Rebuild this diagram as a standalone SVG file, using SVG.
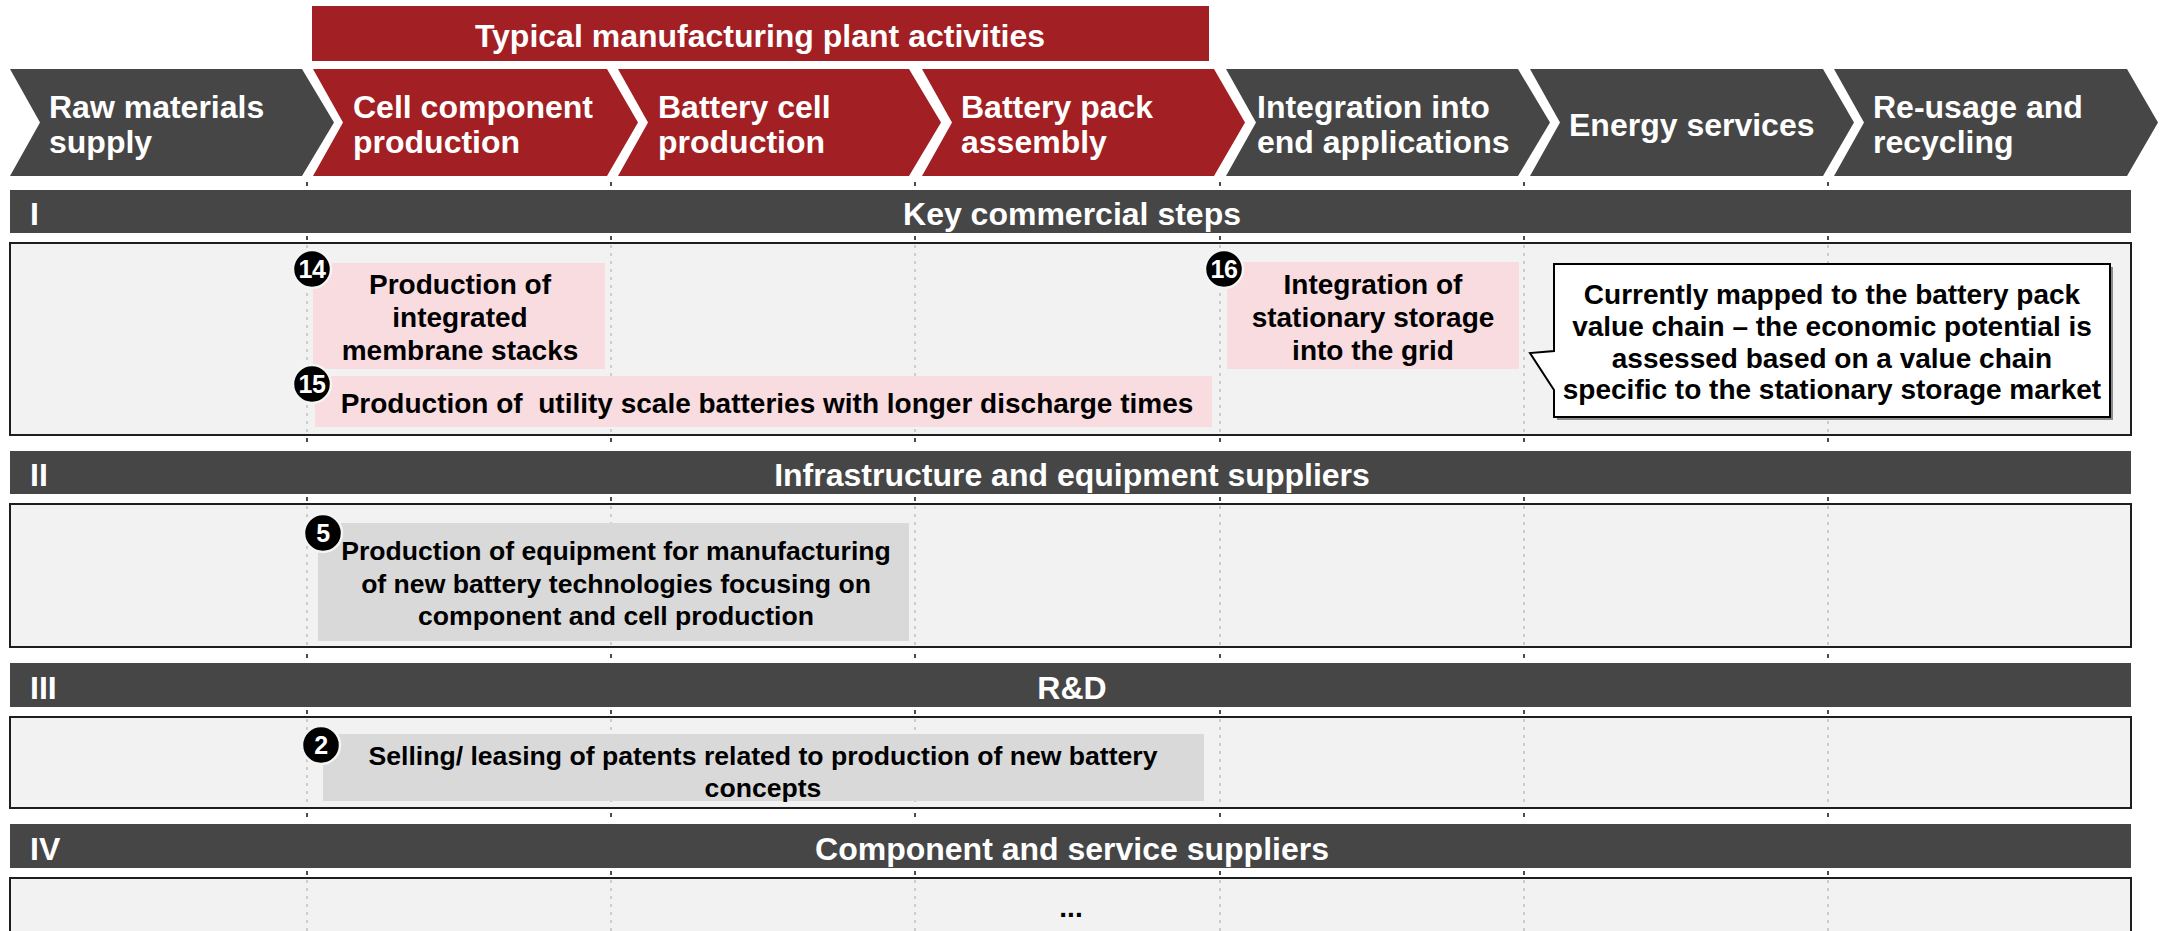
<svg xmlns="http://www.w3.org/2000/svg" width="2161" height="931" viewBox="0 0 2161 931">
<style>
text{font-family:"Liberation Sans",Arial,sans-serif;font-weight:bold}
.red{fill:#A21F23}
.dark{fill:#464646}
.chev{font-size:32px;fill:#fff}
.hdr{font-size:32px;fill:#fff}
.hdrc{font-size:32px;fill:#fff;text-anchor:middle}
.box{fill:#F2F2F2;stroke:#1e1e1e;stroke-width:2}
.grid{stroke:#b8b8b8;stroke-width:1.3;stroke-dasharray:3 5;fill:none}
.tick{stroke:#111;stroke-width:1.5}
.pink{fill:#F8DCDF}
.grey{fill:#D9D9D9}
.nt{font-size:28px;fill:#000;text-anchor:middle}
.nt2{font-size:26.6px;fill:#000;text-anchor:middle}
.badge circle{fill:#000;stroke:#f4f4f4;stroke-width:2.5}
.badge text{font-size:25px;fill:#fff;text-anchor:middle;letter-spacing:-0.5px}
</style>
<rect width="2161" height="931" fill="#fff"/>

<g id="title-bar">
<rect class="red" x="312" y="6" width="897" height="55"/>
<text class="hdrc" x="760" y="47">Typical manufacturing plant activities</text>
</g>

<g id="chevrons">
<g id="chev-raw"><polygon class="dark" points="10,69 302,69 334,122.5 302,176 10,176 40,122.5"/>
<text class="chev" x="49" y="118">Raw materials</text><text class="chev" x="49" y="153">supply</text></g>
<g id="chev-cellcomp"><polygon class="red" points="313,69 607,69 638,122.5 607,176 313,176 343,122.5"/>
<text class="chev" x="353" y="118">Cell component</text><text class="chev" x="353" y="153">production</text></g>
<g id="chev-cell"><polygon class="red" points="618,69 909,69 941,122.5 909,176 618,176 648,122.5"/>
<text class="chev" x="658" y="118">Battery cell</text><text class="chev" x="658" y="153">production</text></g>
<g id="chev-pack"><polygon class="red" points="922,69 1214,69 1245,122.5 1214,176 922,176 952,122.5"/>
<text class="chev" x="961" y="118">Battery pack</text><text class="chev" x="961" y="153">assembly</text></g>
<g id="chev-integ"><polygon class="dark" points="1226,69 1518,69 1550,122.5 1518,176 1226,176 1256,122.5"/>
<text class="chev" x="1257" y="118">Integration into</text><text class="chev" x="1257" y="153">end applications</text></g>
<g id="chev-energy"><polygon class="dark" points="1530,69 1823,69 1854,122.5 1823,176 1530,176 1560,122.5"/>
<text class="chev" x="1569" y="136">Energy services</text></g>
<g id="chev-reuse"><polygon class="dark" points="1834,69 2127,69 2158,122.5 2127,176 1834,176 1864,122.5"/>
<text class="chev" x="1873" y="118">Re-usage and</text><text class="chev" x="1873" y="153">recycling</text></g>
</g>

<g id="rows">
<g id="row-I"><rect class="dark" x="10" y="190" width="2121" height="43"/>
<text class="hdr" x="30" y="225">I</text><text class="hdrc" x="1072" y="225">Key commercial steps</text>
<rect class="box" x="10" y="243" width="2121" height="192"/></g>
<g id="row-II"><rect class="dark" x="10" y="451" width="2121" height="43"/>
<text class="hdr" x="30" y="486">II</text><text class="hdrc" x="1072" y="486">Infrastructure and equipment suppliers</text>
<rect class="box" x="10" y="504" width="2121" height="143"/></g>
<g id="row-III"><rect class="dark" x="10" y="663" width="2121" height="44"/>
<text class="hdr" x="30" y="699">III</text><text class="hdrc" x="1072" y="699">R&amp;D</text>
<rect class="box" x="10" y="717" width="2121" height="91"/></g>
<g id="row-IV"><rect class="dark" x="10" y="824" width="2121" height="44"/>
<text class="hdr" x="30" y="860">IV</text><text class="hdrc" x="1072" y="860">Component and service suppliers</text>
<rect class="box" x="10" y="878" width="2121" height="70"/></g>
</g>

<g id="gridlines">
<path class="grid" d="M307,245V433M611,245V433M915,245V433M1220,245V433M1524,245V433M1828,245V433"/>
<path class="grid" d="M307,506V645M611,506V645M915,506V645M1220,506V645M1524,506V645M1828,506V645"/>
<path class="grid" d="M307,719V806M611,719V806M915,719V806M1220,719V806M1524,719V806M1828,719V806"/>
<path class="grid" d="M307,880V931M611,880V931M915,880V931M1220,880V931M1524,880V931M1828,880V931"/>
<path class="tick" d="M307,182v4M611,182v4M915,182v4M1220,182v4M1524,182v4M1828,182v4
M307,236v4M611,236v4M915,236v4M1220,236v4M1524,236v4M1828,236v4
M307,438v4M611,438v4M915,438v4M1220,438v4M1524,438v4M1828,438v4
M307,497v4M611,497v4M915,497v4M1220,497v4M1524,497v4M1828,497v4
M307,654v4M611,654v4M915,654v4M1220,654v4M1524,654v4M1828,654v4
M307,710v4M611,710v4M915,710v4M1220,710v4M1524,710v4M1828,710v4
M307,813v4M611,813v4M915,813v4M1220,813v4M1524,813v4M1828,813v4
M307,871v4M611,871v4M915,871v4M1220,871v4M1524,871v4M1828,871v4"/>
</g>

<g id="connectors"></g>

<g id="node-14">
<rect class="pink" x="313" y="263" width="292" height="106"/>
<text class="nt" x="460" y="294">Production of</text>
<text class="nt" x="460" y="327">integrated</text>
<text class="nt" x="460" y="360">membrane stacks</text>
<g class="badge"><circle cx="312" cy="269" r="19"/><text x="312" y="278">14</text></g>
</g>

<g id="node-15">
<rect class="pink" x="315" y="376" width="897" height="51"/>
<text class="nt" x="767" y="413" style="white-space:pre">Production of  utility scale batteries with longer discharge times</text>
<g class="badge"><circle cx="312" cy="384" r="19"/><text x="312" y="393">15</text></g>
</g>

<g id="node-16">
<rect class="pink" x="1227" y="262" width="292" height="107"/>
<text class="nt" x="1373" y="294">Integration of</text>
<text class="nt" x="1373" y="327">stationary storage</text>
<text class="nt" x="1373" y="360">into the grid</text>
<g class="badge"><circle cx="1224" cy="269" r="19"/><text x="1224" y="278">16</text></g>
</g>

<g id="callout">
<path d="M1557,267H2113V420H1557V393L1533,356L1557,354Z" fill="#8a8a8a"/>
<path d="M1554,264H2110V417H1554V390L1530,353L1554,351Z" fill="#fff" stroke="#000" stroke-width="2"/>
<text class="nt" x="1832" y="304">Currently mapped to the battery pack</text>
<text class="nt" x="1832" y="336">value chain – the economic potential is</text>
<text class="nt" x="1832" y="368">assessed based on a value chain</text>
<text class="nt" x="1832" y="399">specific to the stationary storage market</text>
</g>

<g id="node-5">
<rect class="grey" x="318" y="523" width="591" height="118"/>
<text class="nt2" x="616" y="560">Production of equipment for manufacturing</text>
<text class="nt2" x="616" y="593">of new battery technologies focusing on</text>
<text class="nt2" x="616" y="625">component and cell production</text>
<g class="badge"><circle cx="323" cy="533" r="19"/><text x="323" y="542">5</text></g>
</g>

<g id="node-2">
<rect class="grey" x="323" y="734" width="881" height="67"/>
<text class="nt2" x="763" y="765">Selling/ leasing of patents related to production of new battery</text>
<text class="nt2" x="763" y="797">concepts</text>
<g class="badge"><circle cx="321" cy="745" r="19"/><text x="321" y="754">2</text></g>
</g>

<g id="node-ellipsis">
<text class="nt" x="1071" y="917">...</text>
</g>
</svg>
